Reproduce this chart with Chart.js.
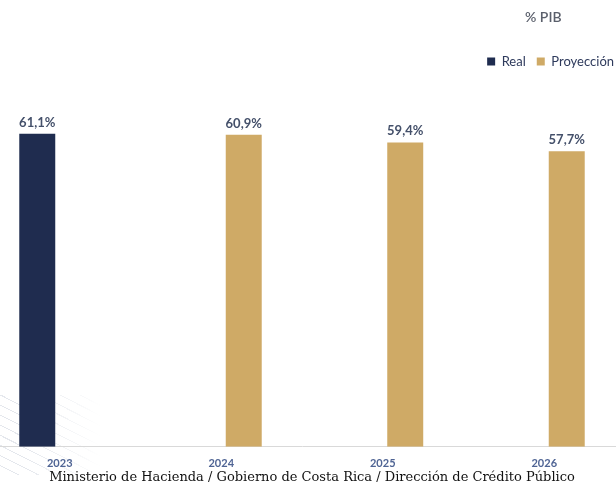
<!DOCTYPE html>
<html>
<head>
<meta charset="utf-8">
<script src="https://cdn.jsdelivr.net/npm/chart.js@4"></script>
<style>
    html, body { margin: 0; padding: 0; background: #fff; overflow: hidden; }
    body { width: 616px; height: 486px; position: relative; }
    #wrap { position: absolute; left: -21px; top: 0; width: 646px; height: 486px; }
    #deco {
        position: absolute; left: 0; top: 395px; width: 100px; height: 80px;
        background: repeating-linear-gradient(27deg, transparent 0 8px, rgba(160,170,190,0.28) 8px 9px);
        -webkit-mask-image: linear-gradient(to right, #000 25%, transparent 100%);
        mask-image: linear-gradient(to right, #000 25%, transparent 100%);
    }
    #unit {
        position: absolute; left: 525px; top: 8px;
        font: 600 14px Lato, "Open Sans", sans-serif; color: #5a5f6b;
    }
    #footer {
        position: absolute; left: 4px; width: 616px; top: 469px; text-align: center;
        font: 13px "DejaVu Serif", serif; color: #111;
    }
</style>
</head>
<body>
<div id="deco"></div>
<div id="wrap"><canvas id="debtChart"></canvas></div>
<div id="unit">% PIB</div>
<div id="footer">Ministerio de Hacienda / Gobierno de Costa Rica / Dirección de Crédito Público</div>

<script>
// ===== DATA =====
const years = ['2023', '2024', '2025', '2026'];
const realValues = [61.1, null, null, null];
const projValues = [null, 60.9, 59.4, 57.7];

// value labels above bars (es-CR decimal comma)
const valueLabels = {
    id: 'valueLabels',
    afterDatasetsDraw(chart) {
        const ctx = chart.ctx;
        ctx.save();
        ctx.font = 'bold 13px Lato, "Open Sans", sans-serif';
        ctx.fillStyle = '#44506a';
        ctx.textAlign = 'center';
        ctx.textBaseline = 'bottom';
        chart.data.datasets.forEach((ds, i) => {
            chart.getDatasetMeta(i).data.forEach((bar, j) => {
                const v = ds.data[j];
                if (v === null) return;
                ctx.fillText(v.toFixed(1).replace('.', ',') + '%', bar.x, bar.y - 5);
            });
        });
        ctx.restore();
    }
};

document.addEventListener('DOMContentLoaded', function() {
    const ctx = document.getElementById('debtChart');

    new Chart(ctx, {
        type: 'bar',
        data: {
            labels: years,
            datasets: [{
                label: 'Real',
                data: realValues,
                backgroundColor: '#1f2c4f'
            }, {
                label: 'Proyección',
                data: projValues,
                backgroundColor: '#cfaa66'
            }]
        },
        options: {
            responsive: true,
            maintainAspectRatio: false,
            animation: false,
            categoryPercentage: 0.557,
            barPercentage: 0.8,
            layout: {
                padding: { top: 44, bottom: 6, left: 0, right: 0 }
            },
            plugins: {
                legend: {
                    position: 'top',
                    align: 'end',
                    labels: {
                        boxWidth: 8,
                        boxHeight: 8,
                        padding: 11,
                        color: '#2e3a5c',
                        font: { family: 'Lato, "Open Sans", sans-serif', size: 13 }
                    }
                },
                tooltip: { enabled: false }
            },
            scales: {
                y: {
                    display: false,
                    min: 0,
                    max: 72
                },
                x: {
                    grid: { display: true, drawOnChartArea: false, drawTicks: false },
                    border: { color: '#d9d9d9', width: 1 },
                    ticks: {
                        color: '#4f6494',
                        padding: 10,
                        font: { family: 'Lato, "Open Sans", sans-serif', size: 11, weight: 'bold' }
                    }
                }
            }
        },
        plugins: [valueLabels]
    });
});
</script>
</body>
</html>
